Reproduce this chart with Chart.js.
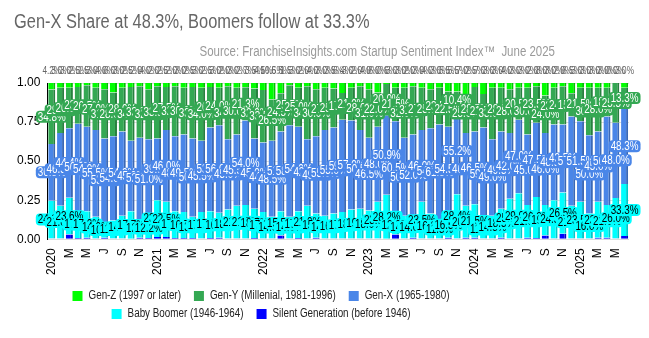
<!DOCTYPE html>
<html>
<head>
<meta charset="utf-8">
<script src="https://cdn.jsdelivr.net/npm/chart.js@4/dist/chart.umd.min.js"></script>
<style>
  body { margin: 0; background: #fff; }
  #wrap { width: 649px; height: 338px; }
</style>
</head>
<body>
<div id="wrap"><canvas id="genChart"></canvas></div>
<script>

/// DATA ///

// month labels, Jan 2020 - Jun 2025 (only every other one is shown)
const categories = [
    '2020', 'F', 'M', 'A', 'M', 'J', 'J', 'A', 'S', 'O', 'N', 'D',
    '2021', 'F', 'M', 'A', 'M', 'J', 'J', 'A', 'S', 'O', 'N', 'D',
    '2022', 'F', 'M', 'A', 'M', 'J', 'J', 'A', 'S', 'O', 'N', 'D',
    '2023', 'F', 'M', 'A', 'M', 'J', 'J', 'A', 'S', 'O', 'N', 'D',
    '2024', 'F', 'M', 'A', 'M', 'J', 'J', 'A', 'S', 'O', 'N', 'D',
    '2025', 'F', 'M', 'A', 'M', 'J'
];

// shares in percent
const silent = [0.5, 0.5, 3, 0.8, 1, 0.5, 1, 0.5, 0.5, 0.3, 1, 0.8,
    1.5, 1.5, 0.8, 0.8, 0.8, 0.5, 0.8, 1, 0.5, 0.5, 0.5, 0.8,
    0.5, 0.5, 2.5, 0.5, 0.8, 0.5, 1, 0.5, 0.5, 0.5, 0.5, 0.5,
    0.5, 0.5, 0.3, 3, 0.5, 1, 0.5, 0.5, 0.5, 1, 0.5, 1,
    1, 0.5, 0.5, 1, 0.5, 0.5, 1, 0.8, 2.5, 0.5, 3.5, 0.5,
    0.5, 0.5, 1, 1, 0.5, 2.1];

const boomer = [24.2, 21.0, 23.6, 17.2, 17.0, 14.0, 10.0, 11.5, 14.5, 17.7, 12.0, 12.2,
    23.5, 22.5, 17.2, 16.7, 13.7, 17.0, 17.2, 16.0, 18.5, 21.0, 21.5, 18.7,
    17.0, 14.0, 15.5, 14.0, 17.2, 21.0, 15.5, 14.5, 16.0, 17.0, 18.5, 19.0,
    18.0, 23.5, 28.2, 12.0, 14.5, 14.0, 23.5, 16.0, 11.5, 16.5, 28.4, 20.5,
    21.5, 11.5, 14.5, 18.5, 25.5, 29.0, 21.0, 26.2, 19.5, 24.5, 26.5, 21.0,
    23.5, 16.0, 23.0, 21.0, 26.0, 33.3];

const genX = [36.3, 46.5, 44.4, 56.0, 54.0, 55.5, 53.5, 54.0, 54.0, 45.0, 52.0, 51.0,
    39.5, 46.0, 48.0, 49.5, 50.0, 45.5, 53.5, 56.0, 45.0, 45.5, 54.0, 45.0,
    44.5, 48.5, 51.0, 58.5, 54.0, 42.5, 49.5, 55.0, 55.0, 59.0, 57.0, 50.5,
    46.5, 48.0, 50.9, 60.5, 50.0, 52.0, 46.0, 54.5, 61.5, 54.5, 55.2, 46.5,
    46.5, 59.5, 49.0, 49.5, 42.0, 47.0, 45.0, 47.5, 46.0, 48.5, 43.5, 57.0,
    51.5, 50.0, 45.0, 56.5, 48.0, 48.3];

const genY = [34.8, 29.0, 26.0, 23.5, 26.5, 27.0, 31.5, 28.0, 28.0, 34.5, 33.0, 32.0,
    33.5, 27.5, 32.0, 30.0, 33.0, 34.0, 26.0, 24.0, 34.0, 30.0, 21.3, 32.0,
    33.5, 26.5, 24.5, 25.5, 25.0, 34.0, 30.0, 27.0, 25.0, 17.1, 21.0, 28.0,
    31.0, 22.0, 20.0, 21.5, 32.0, 31.0, 27.0, 25.0, 23.5, 22.5, 10.4, 25.0,
    28.5, 21.5, 33.0, 28.0, 28.0, 20.5, 30.0, 23.5, 24.0, 23.5, 24.5, 15.0,
    21.5, 30.5, 28.0, 18.5, 25.5, 13.3];

const genZ = [4.2, 3, 3, 2.5, 1.5, 3, 4, 6, 3, 2.5, 2, 4,
    2, 2.5, 2, 3, 2.5, 3, 2.5, 3, 2, 3, 2.7, 3.5,
    4.5, 10.5, 6.5, 1.5, 3, 2, 4, 3, 3.5, 6.4, 3, 2,
    4, 6, 0.6, 3, 3, 2, 3, 4, 3, 5.5, 5.5, 7,
    2.5, 7, 3, 3, 4, 3, 3, 2, 8, 3, 2, 6.5,
    3, 3, 3, 3, 0, 3.0];

const yTicks = [0, 0.25, 0.5, 0.75, 1];


/// STYLE ///

const SANS = "'Liberation Sans', Arial, sans-serif";
const SQUEEZE = 0.82; // horizontal squeeze for the narrow-looking texts

// bottom-to-top stack order
const series = [
    { label: 'Silent Generation (before 1946)', data: silent, color: '#0000ff', edge: '#0000c4', text: null },
    { label: 'Baby Boomer (1946-1964)', data: boomer, color: '#00ffff', edge: '#00c8c8', text: '#000' },
    { label: 'Gen-X (1965-1980)', data: genX, color: '#4a86e8', edge: '#3a68b6', text: '#fff' },
    { label: 'Gen-Y (Millenial, 1981-1996)', data: genY, color: '#34a853', edge: '#27803f', text: '#fff' },
    { label: 'Gen-Z (1997 or later)', data: genZ, color: '#00ff00', edge: '#00c400', text: null }
];

// legend rows, by index into series
const legendRows = [[4, 3, 2], [1, 0]];

// draws text squeezed horizontally around its anchor
function narrowText(ctx, text, x, y, align) {
    ctx.save();
    ctx.translate(x, y);
    ctx.scale(SQUEEZE, 1);
    ctx.textAlign = align;
    ctx.fillText(text, 0, 0);
    ctx.restore();
}

function narrowWidth(ctx, text) {
    return ctx.measureText(text).width * SQUEEZE;
}


/// PLUGINS ///

// title + source line
const headerPlugin = {
    id: 'header',
    afterDraw(chart) {
        const ctx = chart.ctx;
        ctx.save();
        ctx.textBaseline = 'alphabetic';
        ctx.fillStyle = '#666';
        ctx.font = '20px ' + SANS;
        narrowText(ctx, 'Gen-X Share at 48.3%, Boomers follow at 33.3%', 14, 28, 'left');
        ctx.fillStyle = '#9a9a9a';
        ctx.font = '14px ' + SANS;
        narrowText(ctx, 'Source: FranchiseInsights.com Startup Sentiment Index\u2122  June 2025', 555, 56, 'right');
        ctx.restore();
    }
};

// value labels on the segments, Gen-Z values above the bars
const valueLabelPlugin = {
    id: 'valueLabels',
    afterDatasetsDraw(chart) {
        const ctx = chart.ctx;
        ctx.save();
        ctx.textBaseline = 'middle';

        [1, 2, 3].forEach(di => {
            const s = series[di];
            const meta = chart.getDatasetMeta(di);
            ctx.font = '12px ' + SANS;
            meta.data.forEach((bar, i) => {
                const txt = s.data[i].toFixed(1) + '%';
                const cy = (bar.y + bar.base) / 2;
                const w = narrowWidth(ctx, txt) + 4;
                const h = 12;
                ctx.fillStyle = s.color;
                ctx.beginPath();
                ctx.roundRect(bar.x - w / 2, cy - h / 2, w, h, 4);
                ctx.fill();
                ctx.fillStyle = s.text;
                narrowText(ctx, txt, bar.x, cy + 0.5, 'center');
            });
        });

        // Gen-Z shares sit above the plot
        const zMeta = chart.getDatasetMeta(4);
        ctx.font = '10px ' + SANS;
        ctx.fillStyle = '#666';
        zMeta.data.forEach((bar, i) => {
            narrowText(ctx, genZ[i].toFixed(1) + '%', bar.x, chart.chartArea.top - 12, 'center');
        });
        ctx.restore();
    }
};

// two-row legend under the axis
const legendPlugin = {
    id: 'legendRows',
    afterDraw(chart) {
        const ctx = chart.ctx;
        const box = 10, gap = 6, spacing = 13, center = 261;
        ctx.save();
        ctx.font = '12px ' + SANS;
        ctx.textBaseline = 'middle';
        legendRows.forEach((row, r) => {
            const y = 296 + r * 18;
            const widths = row.map(k => box + gap + narrowWidth(ctx, series[k].label));
            const total = widths.reduce((a, b) => a + b, 0) + spacing * (row.length - 1);
            let x = center - total / 2;
            row.forEach((k, j) => {
                ctx.fillStyle = series[k].color;
                ctx.fillRect(x, y - 5, box, box);
                ctx.fillStyle = '#222';
                narrowText(ctx, series[k].label, x + box + gap, y, 'left');
                x += widths[j] + spacing;
            });
        });
        ctx.restore();
    }
};


/// CHART ///

const ctx = document.getElementById('genChart').getContext('2d');

const config = {
    type: 'bar',
    plugins: [headerPlugin, valueLabelPlugin, legendPlugin],
    data: {
        labels: categories,
        datasets: series.map(s => ({
            label: s.label,
            data: s.data.map(v => v / 100),
            backgroundColor: s.color,
            borderColor: s.edge,
            borderWidth: { top: 0, right: 2, bottom: 0, left: 0 },
            borderSkipped: false,
            barPercentage: 0.8,
            categoryPercentage: 1.0
        }))
    },
    options: {
        responsive: true,
        maintainAspectRatio: false,
        animation: false,
        layout: {
            padding: { left: 10, right: 20, top: 83, bottom: 54 }
        },
        scales: {
            x: {
                stacked: true,
                grid: { display: false, drawTicks: false },
                border: { display: false },
                ticks: {
                    autoSkip: false,
                    minRotation: 90,
                    maxRotation: 90,
                    padding: 9,
                    color: '#000',
                    font: { family: SANS, size: 12 },
                    callback: (v, i) => (i % 2 === 0 ? categories[i] : '')
                }
            },
            y: {
                stacked: true,
                min: 0,
                max: 1,
                afterBuildTicks: scale => { scale.ticks = yTicks.map(v => ({ value: v })); },
                ticks: {
                    padding: 7,
                    color: '#000',
                    font: { family: SANS, size: 12 },
                    callback: v => v.toFixed(2)
                },
                grid: { color: '#dcdcdc', drawTicks: false },
                border: { display: true, color: '#000', width: 1 }
            }
        },
        plugins: {
            legend: { display: false },
            tooltip: { enabled: false }
        }
    }
};

const genChart = new Chart(ctx, config);

</script>
</body>
</html>
